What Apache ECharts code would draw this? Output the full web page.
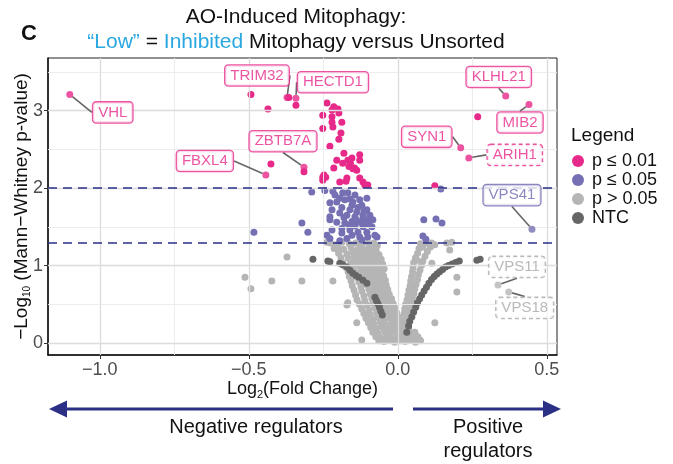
<!DOCTYPE html>
<html>
<head>
<meta charset="utf-8">
<script src="https://cdn.jsdelivr.net/npm/echarts@6/dist/echarts.min.js"></script>
<style>html,body{margin:0;padding:0;background:#fff;}#c{width:673px;height:464px;}</style>
</head>
<body>
<div id="c"></div>
<script>
// ---------- DATA ----------
const pinkPts = [
[-0.493,3.21],[-0.436,3.02],[-0.366,3.17],[-0.342,3.07],[-0.426,2.31],[-0.315,2.21],
[-0.238,3.10],[-0.215,3.05],[-0.201,3.02],[-0.252,2.94],[-0.221,2.92],[-0.221,2.85],[-0.188,2.85],
[-0.252,2.77],[-0.218,2.79],[-0.191,2.71],[-0.198,2.63],[-0.228,2.54],[-0.181,2.45],[-0.154,2.39],
[-0.128,2.43],[-0.128,2.36],[-0.205,2.36],[-0.168,2.36],[-0.185,2.32],[-0.215,2.26],[-0.164,2.28],
[-0.138,2.23],[-0.252,2.14],[-0.171,2.13],[-0.128,2.13],[-0.252,2.10],[-0.195,2.08],[-0.117,2.08],
[-0.101,2.04],[-0.151,2.25],[-0.174,2.09],[-0.111,2.04],[-0.248,2.17],[-0.242,2.14],[-0.159,2.32],
[-0.145,2.26],[-0.221,3.01],[-0.198,2.97],
[0.268,2.92],[0.124,2.03]
];
const purplePts = [
[-0.289,1.95],[-0.245,1.97],[-0.218,1.96],[-0.185,1.94],[-0.168,1.94],[-0.195,1.87],[-0.161,1.86],
[-0.128,1.85],[-0.228,1.81],[-0.205,1.82],[-0.104,1.87],[-0.188,1.75],[-0.154,1.78],[-0.121,1.78],
[-0.221,1.72],[-0.161,1.72],[-0.138,1.69],[-0.104,1.72],[-0.171,1.65],[-0.144,1.63],[-0.117,1.65],
[-0.094,1.65],[-0.228,1.63],[-0.228,1.59],[-0.154,1.57],[-0.128,1.56],[-0.101,1.59],[-0.322,1.55],
[-0.144,1.51],[-0.117,1.50],[-0.087,1.50],[-0.302,1.43],[-0.221,1.46],[-0.161,1.46],[-0.134,1.43],
[-0.104,1.43],[-0.238,1.39],[-0.228,1.35],[-0.154,1.39],[-0.128,1.37],[-0.101,1.37],[-0.070,1.37],
[-0.188,1.42],[-0.205,1.56],[-0.178,1.55],[-0.188,1.48],[-0.171,1.35],[-0.483,1.43],[-0.077,1.39],
[-0.195,1.68],[-0.178,1.85],[-0.144,1.91],[-0.211,1.91],[-0.111,1.55],[-0.084,1.59],[-0.121,1.33],
[-0.195,1.32],[-0.151,1.82],[-0.134,1.75],[-0.114,1.70],[-0.098,1.53],[-0.141,1.59],[-0.164,1.52],
[-0.181,1.62],[-0.118,1.60],
[0.144,1.99],[0.087,1.59],[0.128,1.60],[0.148,1.55],[0.084,1.38],[0.094,1.34]
];
const greyPts = [
[-0.226,1.29],[-0.207,1.27],[-0.188,1.30],[-0.163,1.28],[-0.142,1.29],[-0.127,1.27],[-0.111,1.30],[-0.096,1.28],[-0.081,1.29],[-0.069,1.26],
[-0.214,1.22],[-0.182,1.21],[-0.157,1.23],[-0.136,1.20],[-0.119,1.22],[-0.101,1.21],[-0.086,1.23],[-0.073,1.20],
[-0.199,1.16],[-0.171,1.15],[-0.151,1.17],[-0.131,1.14],[-0.113,1.16],[-0.094,1.15],[-0.079,1.17],[-0.063,1.14],
[-0.191,1.10],[-0.166,1.09],[-0.146,1.11],[-0.123,1.08],[-0.106,1.10],[-0.089,1.09],[-0.071,1.11],[-0.056,1.08],
[-0.186,1.04],[-0.158,1.03],[-0.139,1.05],[-0.117,1.02],[-0.099,1.04],[-0.082,1.03],[-0.066,1.05],[-0.051,1.02],
[-0.176,0.98],[-0.151,0.97],[-0.129,0.99],[-0.109,0.96],[-0.093,0.98],[-0.076,0.97],[-0.061,0.99],[-0.046,0.96],
[-0.167,0.92],[-0.141,0.91],[-0.121,0.93],[-0.101,0.90],[-0.084,0.92],[-0.069,0.91],[-0.054,0.93],
[-0.163,0.86],[-0.137,0.85],[-0.116,0.87],[-0.096,0.84],[-0.079,0.86],[-0.064,0.85],[-0.048,0.87],
[-0.157,0.80],[-0.131,0.79],[-0.107,0.81],[-0.089,0.78],[-0.073,0.80],[-0.056,0.79],[-0.042,0.81],
[-0.153,0.74],[-0.124,0.73],[-0.103,0.75],[-0.084,0.72],[-0.067,0.74],[-0.052,0.73],[-0.039,0.75],
[-0.147,0.68],[-0.121,0.67],[-0.097,0.69],[-0.079,0.66],[-0.061,0.68],[-0.046,0.67],[-0.034,0.69],
[-0.142,0.62],[-0.114,0.61],[-0.092,0.63],[-0.072,0.60],[-0.056,0.62],[-0.041,0.61],[-0.029,0.63],
[-0.137,0.56],[-0.111,0.55],[-0.087,0.57],[-0.069,0.54],[-0.051,0.56],[-0.036,0.55],[-0.021,0.57],
[-0.129,0.50],[-0.104,0.49],[-0.083,0.51],[-0.061,0.48],[-0.044,0.50],[-0.029,0.49],[-0.016,0.51],
[-0.121,0.44],[-0.097,0.43],[-0.076,0.45],[-0.057,0.42],[-0.041,0.44],[-0.023,0.43],[-0.009,0.45],
[-0.114,0.38],[-0.093,0.37],[-0.071,0.39],[-0.053,0.36],[-0.034,0.38],[-0.019,0.37],[-0.004,0.39],
[-0.107,0.32],[-0.085,0.31],[-0.067,0.33],[-0.047,0.30],[-0.027,0.32],[-0.011,0.31],[0.005,0.33],
[-0.099,0.26],[-0.081,0.25],[-0.059,0.27],[-0.041,0.24],[-0.021,0.26],[-0.006,0.25],[0.013,0.27],[0.029,0.24],
[-0.091,0.20],[-0.072,0.19],[-0.054,0.21],[-0.033,0.18],[-0.017,0.20],[0.003,0.19],[0.021,0.21],[0.037,0.18],
[-0.084,0.14],[-0.067,0.13],[-0.045,0.15],[-0.028,0.12],[-0.009,0.14],[0.009,0.13],[0.026,0.15],[0.044,0.12],[0.057,0.14],
[-0.074,0.08],[-0.058,0.07],[-0.037,0.09],[-0.021,0.06],[-0.001,0.08],[0.017,0.07],[0.033,0.09],[0.051,0.06],[0.067,0.08],
[-0.064,0.03],[-0.047,0.02],[-0.027,0.04],[-0.011,0.01],[0.009,0.03],[0.024,0.02],[0.044,0.04],[0.059,0.01],[0.076,0.03],
[0.026,0.31],[0.041,0.34],[0.021,0.38],[0.036,0.40],[0.023,0.44],[0.041,0.46],[0.026,0.50],[0.046,0.52],
[0.031,0.56],[0.049,0.58],[0.034,0.62],[0.054,0.64],[0.037,0.68],[0.057,0.70],[0.041,0.74],[0.061,0.76],
[0.043,0.80],[0.066,0.82],[0.046,0.86],[0.069,0.88],[0.049,0.92],[0.074,0.94],[0.051,0.98],[0.079,1.00],
[0.053,1.04],[0.084,1.06],[0.059,1.10],[0.091,1.12],[0.066,1.16],[0.099,1.18],[0.071,1.22],[0.109,1.24],
[0.076,1.28],[0.113,1.29],[0.124,1.27],
[-0.513,0.85],[-0.493,0.70],[-0.423,0.80],[-0.322,0.80],[-0.218,0.80],[-0.372,1.11],[-0.238,1.30],
[-0.201,1.23],[-0.168,0.52],[-0.171,0.49],[-0.138,0.26],[-0.121,0.04],[0.074,0.04],[0.124,0.26],
[0.174,1.20],[0.181,1.30],[0.198,0.85],[0.198,0.66],[0.064,1.07],[0.114,1.03],[0.164,1.29],
[0.084,1.24],[0.097,1.29]
];
const ntcPts = [
[-0.285,1.08],[-0.235,1.06],[-0.228,1.05],[-0.195,1.03],[-0.185,1.01],[-0.171,0.98],[-0.161,0.94],
[-0.151,0.90],[-0.141,0.87],[-0.131,0.85],[-0.117,0.81],[-0.104,0.77],
[-0.077,0.59],[-0.072,0.55],[-0.067,0.51],[-0.062,0.46],[-0.057,0.41],[-0.052,0.36],
[0.030,0.14],[0.036,0.22],[0.040,0.28],[0.047,0.34],[0.053,0.40],[0.060,0.46],[0.066,0.52],[0.073,0.57],
[0.080,0.62],[0.088,0.67],[0.096,0.72],[0.104,0.77],[0.113,0.82],[0.122,0.86],[0.131,0.89],[0.140,0.92],
[0.150,0.95],[0.160,0.98],[0.170,1.00],[0.182,1.02],[0.194,1.04],[0.206,1.06],[0.265,1.07],[0.276,1.08]
];
const labelGenes = ['VHL','TRIM32','HECTD1','ZBTB7A','FBXL4','KLHL21','MIB2','SYN1','ARIH1','VPS41','VPS11','VPS18'];
const labelX     = [-1.101,-0.372,-0.342,-0.315,-0.443,0.362,0.440,0.211,0.238,0.450,0.336,0.372];
const labelY     = [3.21,3.17,3.16,2.27,2.17,3.19,3.08,2.52,2.39,1.47,0.75,0.66];
const labelGroup = ['p01','p01','p01','p01','p01','p01','p01','p01','p01','p05','ns','ns'];
const xTicks = [-1.0,-0.5,0.0,0.5];
const yTicks = [0,1,2,3];
const xGridVals = [-1.0,-0.75,-0.5,-0.25,0,0.25,0.5];
const yGridVals = [0,0.5,1,1.5,2,2.5,3,3.5];
const thresholds = [2, 1.30103];
const legendNames = ['p ≤ 0.01','p ≤ 0.05','p > 0.05','NTC'];

// ---------- STYLE ----------
const FONT = 'Liberation Sans, Arial, sans-serif';
const colors = {p01:'#E7298A', p05:'#7570B3', ns:'#B5B5B5', ntc:'#666666'};
const NAVY = '#2B2F86';
const labelOffsets = [[43,18],[-30,-22],[37,-16],[-21,-26],[-61,-14],[-7,-19],[-9,18],[-34,-11],[46,-3],[-20,-34],[19,-18],[16,16]];
const dashedLabel = {ARIH1:true, VPS11:true, VPS18:true};
const labelTextColor = {p01:'#E7298A', p05:'#6E69B0', ns:'#A8A8A8'};

const minus = s => s.replace('-', '\u2212');

const gridLines = [];
xGridVals.forEach(v => {
  const major = Number.isInteger(v*2);
  gridLines.push({xAxis: v, lineStyle:{color: major ? '#DCDCDC' : '#EAEAEA', width: major?1.3:0.9, type:'solid'}});
});
yGridVals.forEach(v => {
  const major = Number.isInteger(v);
  gridLines.push({yAxis: v, lineStyle:{color: major ? '#DCDCDC' : '#EAEAEA', width: major?1.3:0.9, type:'solid'}});
});

const labeledData = labelGenes.map((g,i) => ({
  name: g,
  value: [labelX[i], labelY[i]],
  itemStyle: {color: colors[labelGroup[i]]},
  label: {
    color: labelTextColor[labelGroup[i]],
    borderColor: labelTextColor[labelGroup[i]],
    borderType: dashedLabel[g] ? [4,3] : 'solid'
  }
}));

const chart = echarts.init(document.getElementById('c'), null, {renderer:'canvas'});
const option = {
  animation: false,
  backgroundColor: '#fff',
  textStyle: {fontFamily: FONT},
  title: [
    {text:'C', left:16, top:18, textStyle:{fontFamily:FONT, fontSize:22, fontWeight:'bold', color:'#111'}},
    {text:'AO-Induced Mitophagy:\n{b|\u201CLow\u201D} = {b|Inhibited} Mitophagy versus Unsorted',
     left:291, top:0, textAlign:'center',
     textStyle:{fontFamily:FONT, fontSize:21, fontWeight:'normal', color:'#111', lineHeight:25,
       rich:{b:{color:'#29A8E0', fontSize:21, fontFamily:FONT, lineHeight:25}}}},
    {text:'Legend', left:566, top:121, textStyle:{fontFamily:FONT, fontSize:19, fontWeight:'normal', color:'#111'}}
  ],
  legend: {
    data: legendNames, orient:'vertical', left:572, top:152, icon:'circle',
    itemWidth:12, itemHeight:12, itemGap:1, padding:0,
    textStyle:{fontFamily:FONT, fontSize:18, color:'#111', padding:[0,0,0,3]}
  },
  grid: {left:48, right:116, top:58, bottom:109, show:true, borderColor:'#222', borderWidth:1, outerBoundsMode:'none'},
  xAxis: {
    type:'value', min:-1.174, max:0.534,
    name:'Log{s|2}(Fold Change)', nameLocation:'middle', nameGap:24, nameMoveOverlap:false,
    nameTextStyle:{fontFamily:FONT, fontSize:18, color:'#111', rich:{s:{fontSize:11, padding:[10,0,0,0], fontFamily:FONT, color:'#111'}}},
    axisLine:{show:true, onZero:false, lineStyle:{color:'#111', width:1.5}},
    axisTick:{show:true, customValues:xTicks, length:4, lineStyle:{color:'#333'}},
    axisLabel:{customValues:xTicks, fontSize:18, color:'#4D4D4D', margin:6, fontFamily:FONT,
      formatter: v => minus(Number(v).toFixed(1))},
    splitLine:{show:false}
  },
  yAxis: {
    type:'value', min:-0.155, max:3.68,
    name:'\u2212Log{s|10} (Mann\u2212Whitney p-value)', nameLocation:'middle', nameGap:16, nameRotate:90, nameMoveOverlap:false,
    nameTextStyle:{fontFamily:FONT, fontSize:19, color:'#111', rich:{s:{fontSize:10, padding:[10,0,0,0], fontFamily:FONT, color:'#111'}}},
    axisLine:{show:true, onZero:false, lineStyle:{color:'#111', width:1.5}},
    axisTick:{show:true, customValues:yTicks, length:4, lineStyle:{color:'#333'}},
    axisLabel:{customValues:yTicks, fontSize:18, color:'#4D4D4D', margin:5, fontFamily:FONT,
      formatter: v => String(Math.round(v))},
    splitLine:{show:false}
  },
  series: [
    {type:'scatter', name:'gridlines', data:[[0,0]], symbolSize:0, z:1, silent:true, itemStyle:{opacity:0},
     markLine:{silent:true, symbol:'none', label:{show:false}, animation:false, data:gridLines}},
    {type:'scatter', name:'p > 0.05', data:greyPts, symbolSize:7, itemStyle:{color:colors.ns, opacity:1}, z:2},
    {type:'scatter', name:'NTC', data:ntcPts, symbolSize:7, itemStyle:{color:colors.ntc, opacity:1}, z:3},
    {type:'scatter', name:'p ≤ 0.05', data:purplePts, symbolSize:7, itemStyle:{color:colors.p05, opacity:1}, z:4},
    {type:'scatter', name:'p ≤ 0.01', data:pinkPts, symbolSize:7, itemStyle:{color:colors.p01, opacity:1}, z:4},
    {type:'scatter', name:'thresholds', data:[], z:5, silent:true,
     markLine:{silent:true, symbol:'none', label:{show:false}, animation:false,
       lineStyle:{color:NAVY, width:1.5, type:[9,6]},
       data: thresholds.map(t => ({yAxis:t}))}},
    {type:'scatter', name:'labeled', data:labeledData, symbolSize:7, z:6,
     label:{show:true, position:'inside', formatter:'{b}', fontSize:15, fontFamily:FONT,
       backgroundColor:'#fff', borderWidth:1.3, borderRadius:3, padding:[3,5,2,5]},
     labelLine:{show:true, lineStyle:{color:'#666', width:1.6}},
     labelLayout: p => ({dx: labelOffsets[p.dataIndex][0], dy: labelOffsets[p.dataIndex][1]})
    }
  ],
  graphic: [
    {type:'line', shape:{x1:393, y1:409, x2:60, y2:409}, style:{stroke:NAVY, lineWidth:3}},
    {type:'polygon', shape:{points:[[49,409],[67,400.5],[67,417.5]]}, style:{fill:NAVY}},
    {type:'line', shape:{x1:413, y1:409, x2:548, y2:409}, style:{stroke:NAVY, lineWidth:3}},
    {type:'polygon', shape:{points:[[561,409],[543,400.5],[543,417.5]]}, style:{fill:NAVY}},
    {type:'text', x:256, y:427, style:{text:'Negative regulators', font:'20px '+FONT, fill:'#111', textAlign:'center', textVerticalAlign:'middle'}},
    {type:'text', x:488, y:427, style:{text:'Positive', font:'20px '+FONT, fill:'#111', textAlign:'center', textVerticalAlign:'middle'}},
    {type:'text', x:488, y:451, style:{text:'regulators', font:'20px '+FONT, fill:'#111', textAlign:'center', textVerticalAlign:'middle'}}
  ]
};
chart.setOption(option);
</script>
</body>
</html>
